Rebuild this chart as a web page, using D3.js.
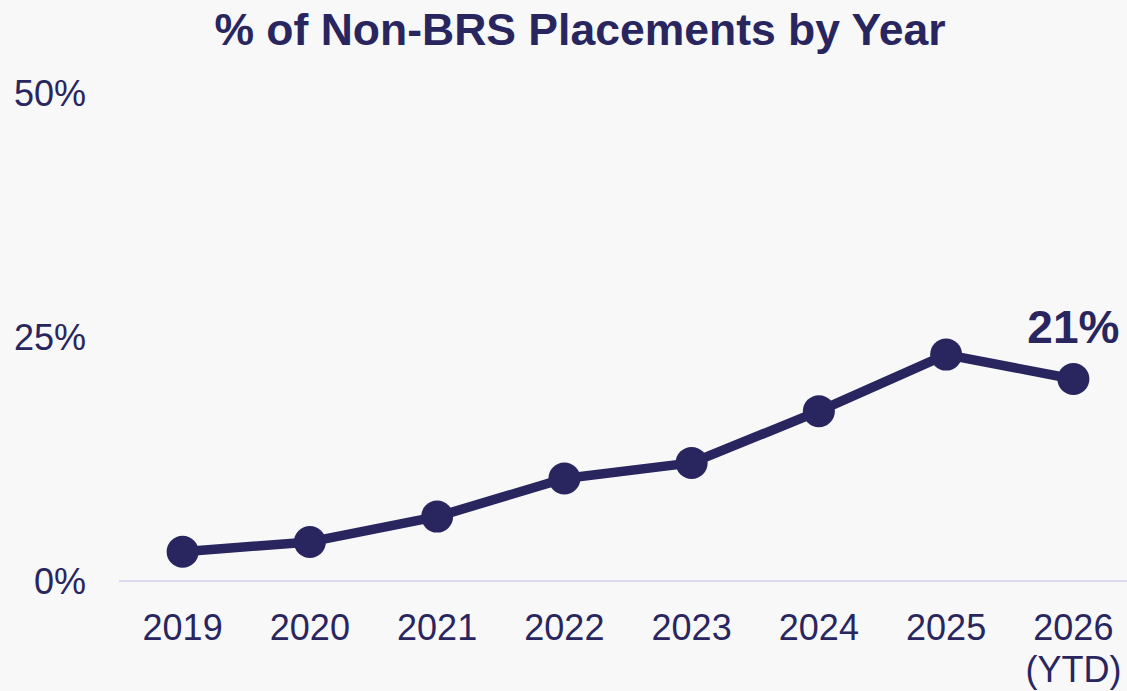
<!DOCTYPE html>
<html>
<head>
<meta charset="utf-8">
<script src="https://cdn.jsdelivr.net/npm/d3@7"></script>
<style>
  html, body { margin: 0; padding: 0; background: #f8f8f8; }
  svg { display: block; }
  text { font-family: "Liberation Sans", Arial, sans-serif; }
</style>
</head>
<body>
<svg id="chart" width="1127" height="691"></svg>
<script>
const categories = ["2019", "2020", "2021", "2022", "2023", "2024", "2025", "2026\n(YTD)"];
const values = [3.0, 4.0, 6.6, 10.5, 12.1, 17.4, 23.2, 20.7];
const yTicks = [0, 25, 50];
const tickLabels = ["0%", "25%", "50%"];
const title = "% of Non-BRS Placements by Year";
const lastLabel = "21%";

const navy = "#29265f";
const W = 1127, H = 691;
const svg = d3.select("#chart");

svg.append("rect").attr("width", W).attr("height", H).attr("fill", "#f8f8f8");

const x = d3.scaleBand().domain(categories).range([119, 1137]).paddingInner(0).paddingOuter(0);
const y = d3.scaleLinear().domain([0, 50]).range([581, 93]);

// title
svg.append("text")
  .attr("x", 580).attr("y", 45)
  .attr("text-anchor", "middle")
  .attr("font-size", 44.5).attr("font-weight", "bold")
  .attr("fill", navy)
  .text(title);

// y axis labels
const yAxis = d3.axisLeft(y).tickValues(yTicks).tickFormat((d, i) => tickLabels[i]).tickSize(0).tickPadding(0);
const yg = svg.append("g").attr("transform", "translate(86,0)").call(yAxis);
yg.select(".domain").remove();
yg.selectAll("text")
  .attr("font-size", 36).attr("fill", navy)
  .attr("font-family", "'Liberation Sans', Arial, sans-serif")
  .attr("dy", "0.35em");

// baseline
svg.append("line")
  .attr("x1", 119).attr("x2", W)
  .attr("y1", y(0)).attr("y2", y(0))
  .attr("stroke", "#dcdaf0").attr("stroke-width", 2);

// x axis labels
const xAxis = d3.axisBottom(x).tickSize(0).tickPadding(0).tickFormat(() => "");
const xg = svg.append("g").attr("transform", `translate(0,${y(0)})`).call(xAxis);
xg.select(".domain").remove();
xg.selectAll(".tick").each(function(d) {
  const t = d3.select(this).select("text");
  t.attr("font-size", 36).attr("fill", navy)
   .attr("font-family", "'Liberation Sans', Arial, sans-serif")
   .attr("y", 0).attr("dy", null);
  const lines = d.split("\n");
  lines.forEach((ln, i) => {
    t.append("tspan").attr("x", 0).attr("y", 59 + i * 42).text(ln);
  });
});

const cx = d => x(d) + x.bandwidth() / 2;

// line
const line = d3.line().x((d, i) => cx(categories[i])).y(d => y(d));
svg.append("path")
  .datum(values)
  .attr("d", line)
  .attr("fill", "none")
  .attr("stroke", navy)
  .attr("stroke-width", 9.5)
  .attr("stroke-linejoin", "round");

// points
svg.selectAll("circle.pt")
  .data(values)
  .join("circle")
  .attr("class", "pt")
  .attr("cx", (d, i) => cx(categories[i]))
  .attr("cy", d => y(d))
  .attr("r", 16)
  .attr("fill", navy);

// last label
const li = values.length - 1;
svg.append("text")
  .attr("x", cx(categories[li]))
  .attr("y", y(values[li]) - 36)
  .attr("text-anchor", "middle")
  .attr("font-size", 46).attr("font-weight", "bold")
  .attr("fill", navy)
  .text(lastLabel);
</script>
</body>
</html>
